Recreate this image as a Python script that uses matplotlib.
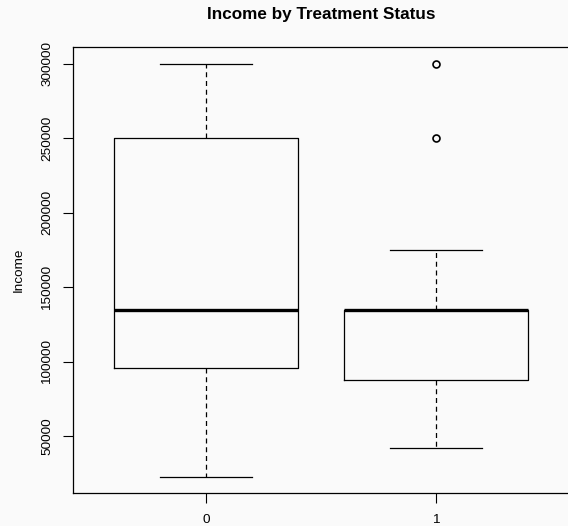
import matplotlib
matplotlib.use("Agg")
import matplotlib.pyplot as plt

groups = ["0", "1"]
whisker_low = [23000, 42000]
q1 = [96000, 87500]
median = [135000, 135000]
q3 = [250000, 135000]
whisker_high = [300000, 175000]
outliers = [[], [250000, 300000]]
yticks = [50000, 100000, 150000, 200000, 250000, 300000]

plt.rcParams['font.family'] = ['Liberation Sans', 'DejaVu Sans']
bg = '#fafafa'
fig = plt.figure(figsize=(5.68, 5.26), dpi=100, facecolor=bg)
ax = fig.add_axes([72.6/568, 33/526, (569-72.6)/568, (493-47)/526], facecolor=bg)

stats = []
for i, g in enumerate(groups):
    stats.append(dict(label=g, whislo=whisker_low[i], q1=q1[i], med=median[i],
                      q3=q3[i], whishi=whisker_high[i], fliers=outliers[i]))

ax.bxp(stats, positions=[1, 2], widths=0.8, showfliers=True,
       boxprops=dict(color='black', linewidth=0.9),
       whiskerprops=dict(color='black', linewidth=0.9, linestyle=(0, (4, 3))),
       capprops=dict(color='black', linewidth=0.9),
       medianprops=dict(color='black', linewidth=2.4, solid_capstyle='butt'),
       flierprops=dict(marker='o', markerfacecolor='none', markeredgecolor='black',
                       markersize=5, markeredgewidth=1.2),
       capwidths=0.4)

ax.set_xlim(0.42, 2.58)
ax.set_ylim(12000, 311100)
ax.set_yticks(yticks)
ax.set_yticklabels([str(v) for v in yticks], rotation=90, va='center')
ax.set_xticks([1, 2])
ax.set_xticklabels(groups)
ax.tick_params(axis='both', length=7, width=0.8, labelsize=9.7, colors='black')
ax.tick_params(axis='y', pad=7)
ax.tick_params(axis='x', pad=8)
for s in ax.spines.values():
    s.set_linewidth(0.9)
ax.set_ylabel("Income", fontsize=9.7, labelpad=12)
ax.set_title("Income by Treatment Status", fontsize=12.3, fontweight='bold', pad=20)

fig.savefig("out.png", dpi=100, facecolor=bg)
